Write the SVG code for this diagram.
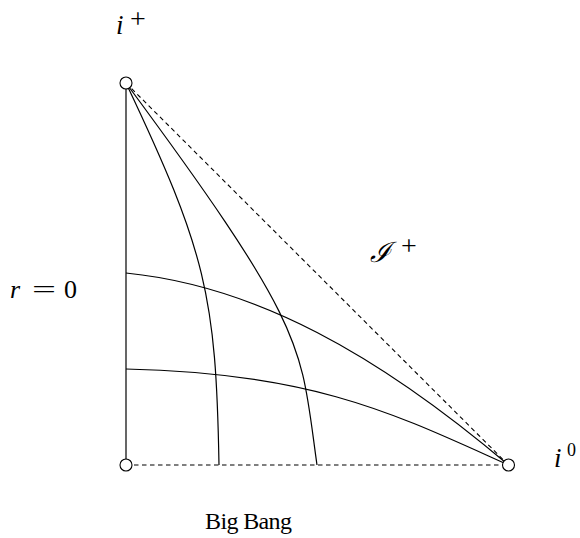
<svg xmlns="http://www.w3.org/2000/svg" width="580" height="538" viewBox="0 0 580 538">
<style>
.ln{fill:none;stroke:#000;stroke-width:1.2}
.dsh{fill:none;stroke:#000;stroke-width:1.1;stroke-dasharray:4.5 3.5}
.pt{fill:#fff;stroke:#000;stroke-width:1.1}
.tx{font-family:'Liberation Serif','Times New Roman','DejaVu Serif',serif;fill:#000}
.it{font-style:italic}
</style>
<rect width="580" height="538" fill="#fff"/>
<g id="connectors">
<line class="ln" x1="126" y1="83" x2="126" y2="465"/>
<line class="dsh" x1="126" y1="465" x2="508.5" y2="465"/>
<line class="dsh" x1="126" y1="83" x2="508.5" y2="465"/>
<path class="ln" d="M126,83 C206,252 216,295 219,465"/>
<path class="ln" d="M126,83 C311,333 300,345 317,465"/>
<path class="ln" d="M126,273 C256,286 378,354.5 508.5,465"/>
<path class="ln" d="M126,369 C316,373 398,415.5 508.5,465"/>
</g>
<g id="i-plus"><circle class="pt" cx="126" cy="83" r="6"/></g>
<g id="origin"><circle class="pt" cx="126" cy="465" r="6"/></g>
<g id="i-zero"><circle class="pt" cx="508.5" cy="465" r="6"/></g>
<g id="labels">
<text class="tx it" x="116" y="34" font-size="27">i</text>
<text class="tx" x="130" y="28" font-size="28">+</text>
<text class="tx it" x="10" y="298" font-size="26">r</text>
<text class="tx" x="32" y="298" font-size="26" textLength="24" lengthAdjust="spacingAndGlyphs">=</text>
<text class="tx" x="64" y="298" font-size="26">0</text>
<text class="tx it" x="370" y="262" font-size="28" style="font-family:'DejaVu Serif',serif">ℐ</text>
<text class="tx" x="401" y="255" font-size="28">+</text>
<text class="tx it" x="554" y="467" font-size="27">i</text>
<text class="tx" x="567" y="456" font-size="18">0</text>
<text class="tx" x="205" y="529" font-size="24" textLength="87">Big Bang</text>
</g>
</svg>
